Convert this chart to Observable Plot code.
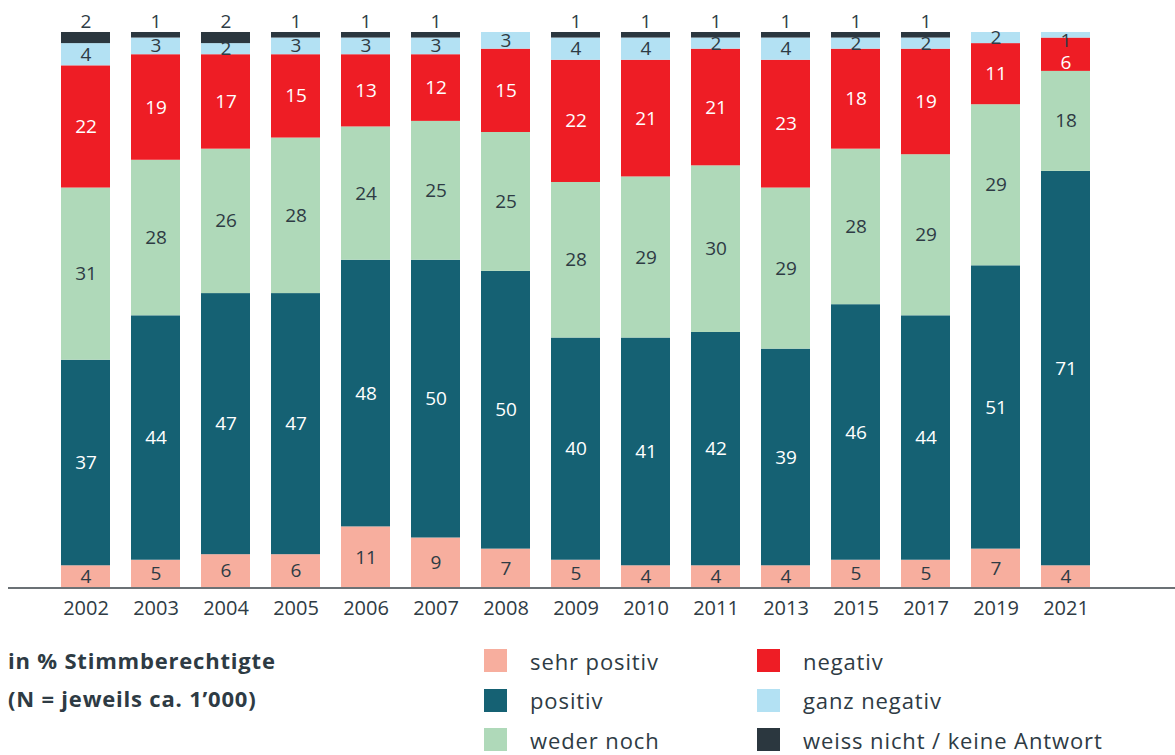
<!DOCTYPE html>
<html>
<head>
<meta charset="utf-8">
<script src="https://cdn.jsdelivr.net/npm/d3@7"></script>
<script src="https://cdn.jsdelivr.net/npm/@observablehq/plot@0.6"></script>
<style>
  body { margin: 0; background: #fff; font-family: "Open Sans", sans-serif; color: #2e3b44; }
  #wrap { position: relative; width: 1175px; height: 755px; overflow: hidden; }
  #chart { position: absolute; left: 0; top: 0; }
  .title { position: absolute; left: 8px; font-weight: 700; font-size: 22px; line-height: 24px; color: #2e3b44; white-space: nowrap; letter-spacing: 0.8px; }
  .item { position: absolute; height: 23px; display: flex; align-items: center; white-space: nowrap; font-size: 22px; color: #2e3b44; letter-spacing: 0.9px; }
  .sw { width: 23px; height: 23px; margin-right: 23px; flex: none; }
</style>
</head>
<body>
<div id="wrap">
  <div id="chart"></div>
</div>
<script>
const years = ["2002","2003","2004","2005","2006","2007","2008","2009","2010","2011","2013","2015","2017","2019","2021"];
const categories = ["sehr positiv","positiv","weder noch","negativ","ganz negativ","weiss nicht / keine Antwort"];
const colors = ["#f7ae9e","#156173","#afd9b9","#ee1d25","#b3e1f3","#2b373f"];
const sehrPositiv = [4,5,6,6,11,9,7,5,4,4,4,5,5,7,4];
const positiv     = [37,44,47,47,48,50,50,40,41,42,39,46,44,51,71];
const wederNoch   = [31,28,26,28,24,25,25,28,29,30,29,28,29,29,18];
const negativ     = [22,19,17,15,13,12,15,22,21,21,23,18,19,11,6];
const ganzNegativ = [4,3,2,3,3,3,3,4,4,2,4,2,2,2,1];
const weissNicht  = [2,1,2,1,1,1,0,1,1,1,1,1,1,0,0];
const legendTitle = ["in % Stimmberechtigte", "(N = jeweils ca. 1\u2019000)"];

const series = [sehrPositiv, positiv, wederNoch, negativ, ganzNegativ, weissNicht];
const data = [];
categories.forEach((cat, ci) => {
  years.forEach((year, yi) => {
    // "crowded": the segment above ("ganz negativ") is too thin to hold its label
    const crowded = ganzNegativ[yi] <= 1;
    data.push({year, cat, value: series[ci][yi], crowded});
  });
});

const dark = "#2e3b44";
const font = "'Open Sans', sans-serif";
const whiteCats = new Set(["positiv", "negativ"]);
const topCat = categories[5];
const nudged = new Set(["negativ", "ganz negativ"]);
const isNudged = d => d.crowded && nudged.has(d.cat);

const labelMark = (test, fill, dy) => Plot.text(data, Plot.stackY({
  x: "year", y: "value", z: "cat", order: categories,
  text: d => (test(d) && d.value > 0) ? String(d.value) : null,
  fill, fontSize: 19, dy
}));

const chart = Plot.plot({
  width: 1175,
  height: 625,
  marginLeft: 8,
  marginRight: 0,
  marginTop: 32,
  marginBottom: 37.5,
  style: { fontFamily: font, background: "transparent", overflow: "visible" },
  x: { domain: years, paddingInner: 0.293, paddingOuter: 0.9, align: 0.385, label: null },
  y: { domain: [0, 100], axis: null, label: null },
  color: { domain: categories, range: colors, legend: false },
  marks: [
    Plot.barY(data, { x: "year", y: "value", z: "cat", fill: "cat", order: categories }),
    labelMark(d => d.cat !== topCat && !whiteCats.has(d.cat) && !isNudged(d), dark, 0),
    labelMark(d => whiteCats.has(d.cat) && !isNudged(d), "white", 0),
    labelMark(d => d.cat === "ganz negativ" && isNudged(d), dark, 6),
    labelMark(d => d.cat === "negativ" && isNudged(d), "white", 8),
    Plot.text(data, Plot.stackY2({
      x: "year", y: "value", z: "cat", order: categories,
      text: d => (d.cat === topCat && d.value > 0) ? String(d.value) : null,
      fill: dark, fontSize: 19, dy: -11
    })),
    Plot.ruleY([0], { stroke: "#6b7175", strokeWidth: 2 }),
    Plot.axisX({ tickSize: 0, tickPadding: 13, fontSize: 20, fill: dark, label: null })
  ]
});
document.getElementById("chart").appendChild(chart);

const wrap = document.getElementById("wrap");
legendTitle.forEach((t, i) => {
  const el = document.createElement("div");
  el.className = "title";
  el.style.top = (648 + i * 38) + "px";
  el.textContent = t;
  wrap.appendChild(el);
});
categories.forEach((cat, i) => {
  const col = Math.floor(i / 3), row = i % 3;
  const el = document.createElement("div");
  el.className = "item";
  el.style.left = (col === 0 ? 484 : 757) + "px";
  el.style.top = (649 + row * 39.7) + "px";
  const sw = document.createElement("span");
  sw.className = "sw";
  sw.style.background = colors[i];
  const tx = document.createElement("span");
  tx.textContent = cat;
  el.appendChild(sw);
  el.appendChild(tx);
  wrap.appendChild(el);
});
</script>
</body>
</html>
